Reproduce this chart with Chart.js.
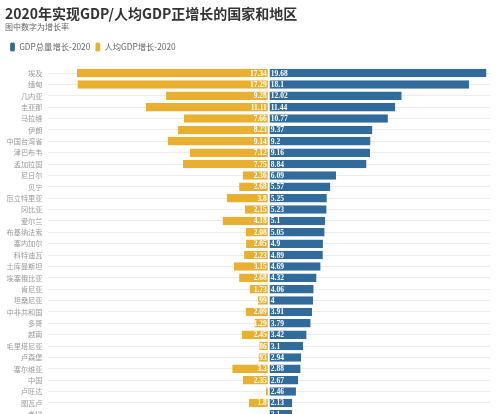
<!DOCTYPE html>
<html>
<head>
<meta charset="utf-8">
<script src="https://cdn.jsdelivr.net/npm/chart.js@4"></script>
<style>
  html, body { margin: 0; padding: 0; background: #fff; overflow: hidden; }
  #wrap { width: 500px; height: 440px; position: relative; }
</style>
</head>
<body>
<div id="wrap"><canvas id="growthChart"></canvas></div>
<script>
// Countries, top to bottom
const countries = ['埃及', '缅甸', '几内亚', '圭亚那', '马拉维', '伊朗', '中国台湾省', '津巴布韦', '孟加拉国',
  '尼日尔', '贝宁', '厄立特里亚', '冈比亚', '爱尔兰', '布基纳法索', '塞内加尔', '科特迪瓦', '土库曼斯坦',
  '埃塞俄比亚', '肯尼亚', '坦桑尼亚', '中非共和国', '多哥', '越南', '毛里塔尼亚', '卢森堡', '塞尔维亚',
  '中国', '卢旺达', '图瓦卢', '老挝'];

// GDP总量增长-2020 (%)
const gdpGrowth = [19.68, 18.1, 12.02, 11.44, 10.77, 9.37, 9.2, 9.16, 8.84,
  6.09, 5.57, 5.25, 5.23, 5.1, 5.05, 4.9, 4.89, 4.69,
  4.32, 4.06, 4, 3.91, 3.79, 3.42, 3.1, 2.94, 2.88,
  2.67, 2.46, 2.13, 2.1];

// 人均GDP增长-2020 (%), drawn to the left of zero
const perCapitaGrowth = [17.34, 17.29, 9.28, 11.11, 7.66, 8.23, 9.14, 7.12, 7.75,
  2.36, 2.68, 3.8, 2.15, 4.18, 2.08, 2.05, 2.23, 3.15,
  2.68, 1.73, 0.99, 2.09, 1.29, 2.45, 0.86, 0.93, 3.3,
  2.35, 0.27, 1.8, null];

const BLUE = '#306b9b';
const YELLOW = '#e8b02e';
const CJK = '"Noto Sans CJK SC", "Noto Sans", sans-serif';

// white value labels inside the bars, next to the zero line
const barLabels = {
  id: 'barLabels',
  afterDatasetsDraw(chart) {
    const ctx = chart.ctx;
    chart.data.datasets.forEach((ds, i) => {
      const meta = chart.getDatasetMeta(i);
      meta.data.forEach((bar, j) => {
        const v = ds.data[j];
        if (v == null) return;
        const left = Math.min(bar.x, bar.base);
        const right = Math.max(bar.x, bar.base);
        const h = bar.height;
        ctx.save();
        ctx.beginPath();
        ctx.rect(left, bar.y - h / 2, right - left, h);
        ctx.clip();
        ctx.fillStyle = '#fff';
        ctx.font = 'bold 7.5px "Liberation Serif", serif';
        ctx.textBaseline = 'middle';
        const text = String(Math.abs(v));
        if (v < 0) {
          ctx.textAlign = 'right';
          ctx.fillText(text, bar.base - 2, bar.y + 0.5);
        } else {
          ctx.textAlign = 'left';
          ctx.fillText(text, bar.base + 2, bar.y + 0.5);
        }
        ctx.restore();
      });
    });
  }
};

// a bit more room under the legend
const legendGap = {
  id: 'legendGap',
  beforeInit(chart) {
    const fit = chart.legend.fit;
    chart.legend.fit = function () {
      fit.call(this);
      this.height += 6;
    };
  }
};

const ctx = document.getElementById('growthChart').getContext('2d');

new Chart(ctx, {
  type: 'bar',
  data: {
    labels: countries,
    datasets: [
      {
        label: 'GDP总量增长-2020',
        data: gdpGrowth,
        backgroundColor: BLUE,
        borderColor: '#fff',
        borderWidth: { left: 1, right: 0, top: 0, bottom: 0 },
        borderSkipped: false,
        barPercentage: 0.75,
        categoryPercentage: 1
      },
      {
        label: '人均GDP增长-2020',
        data: perCapitaGrowth.map(v => (v == null ? null : -v)),
        backgroundColor: YELLOW,
        borderColor: '#fff',
        borderWidth: { left: 0, right: 1, top: 0, bottom: 0 },
        borderSkipped: false,
        barPercentage: 0.75,
        categoryPercentage: 1
      }
    ]
  },
  options: {
    indexAxis: 'y',
    responsive: true,
    maintainAspectRatio: false,
    animation: false,
    layout: {
      padding: { left: 5, right: 10, top: 0, bottom: 20 }
    },
    plugins: {
      title: {
        display: true,
        text: '2020年实现GDP/人均GDP正增长的国家和地区',
        align: 'start',
        color: '#333',
        font: { family: CJK, size: 14, weight: 'bold' },
        padding: { top: 5, bottom: 0 }
      },
      subtitle: {
        display: true,
        text: '图中数字为增长率',
        align: 'start',
        color: '#666',
        font: { family: CJK, size: 8 },
        padding: { top: 0, bottom: 6 }
      },
      legend: {
        align: 'start',
        labels: {
          color: '#666',
          font: { family: CJK, size: 8.3 },
          boxWidth: 5,
          boxHeight: 9,
          useBorderRadius: true,
          borderRadius: 1.5,
          padding: 5
        }
      },
      tooltip: { enabled: false }
    },
    scales: {
      x: {
        stacked: true,
        display: false,
        min: -20,
        max: 20
      },
      y: {
        stacked: true,
        afterFit(scale) {
          scale.width = 42.5;
        },
        grid: {
          offset: false,
          color: '#ececec',
          drawTicks: false
        },
        border: { display: false },
        ticks: {
          color: '#999',
          padding: 5,
          autoSkip: false,
          font: { family: CJK, size: 7.2 }
        }
      }
    }
  },
  plugins: [barLabels, legendGap]
});
</script>
</body>
</html>
